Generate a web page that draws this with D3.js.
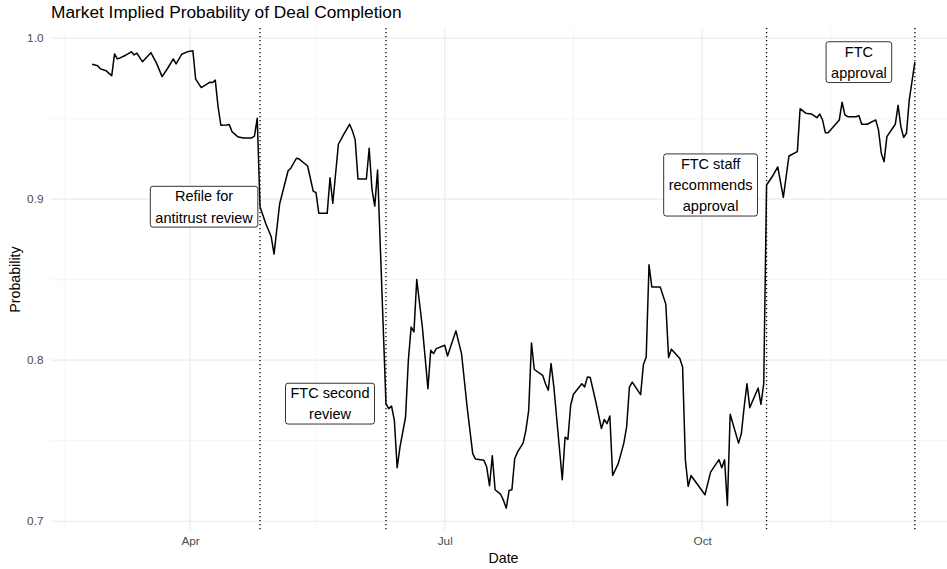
<!DOCTYPE html>
<meta charset="utf-8">
<style>
body {
  margin: 0;
  background-color: #fff;
}
svg {
  display: block;
  font-family: "Liberation Sans", Arial, sans-serif;
}
.grid-major {
  stroke: #EBEBEB;
  stroke-width: 1.1px;
}
.grid-minor {
  stroke: #EBEBEB;
  stroke-width: 0.55px;
}
.axis text {
  fill: #4D4D4D;
  font-size: 11.8px;
}
.axis path {
  display: none;
}
.line {
  fill: none;
  stroke: #000;
  stroke-width: 1.5px;
  stroke-linejoin: round;
}
.event-line {
  stroke: #000;
  stroke-width: 1.3px;
  stroke-dasharray: 1.3,2.7;
}
.label rect {
  fill: #fff;
  stroke: #000;
  stroke-width: 0.8px;
}
.label text {
  font-size: 14.5px;
  fill: #000;
}
</style>
<body>
<svg width="947" height="569"></svg>

<script src="https://cdn.jsdelivr.net/npm/d3@7"></script>
<script>

// implied probability
var dates = [
  "2023-02-25","2023-02-27","2023-02-28","2023-03-02","2023-03-04","2023-03-05","2023-03-06","2023-03-07",
  "2023-03-09","2023-03-11","2023-03-12","2023-03-13","2023-03-15","2023-03-18","2023-03-20","2023-03-22",
  "2023-03-24","2023-03-26","2023-03-27","2023-03-28","2023-03-29","2023-03-31","2023-04-02","2023-04-03",
  "2023-04-05","2023-04-08","2023-04-09","2023-04-10","2023-04-11","2023-04-12","2023-04-14","2023-04-15",
  "2023-04-16","2023-04-18","2023-04-20","2023-04-23","2023-04-24","2023-04-25","2023-04-26","2023-04-28",
  "2023-04-30","2023-05-01","2023-05-03","2023-05-06","2023-05-07","2023-05-09","2023-05-10","2023-05-13",
  "2023-05-15","2023-05-16","2023-05-17","2023-05-20","2023-05-21","2023-05-22","2023-05-24","2023-05-26",
  "2023-05-28","2023-05-29","2023-05-30","2023-05-31","2023-06-03","2023-06-04","2023-06-05","2023-06-06",
  "2023-06-07","2023-06-10","2023-06-11","2023-06-12","2023-06-13","2023-06-14","2023-06-15","2023-06-17",
  "2023-06-18","2023-06-19","2023-06-20","2023-06-21","2023-06-23","2023-06-25","2023-06-26","2023-06-27",
  "2023-06-28","2023-07-01","2023-07-02","2023-07-03","2023-07-05","2023-07-07","2023-07-08","2023-07-09",
  "2023-07-11","2023-07-12","2023-07-15","2023-07-16","2023-07-17","2023-07-18","2023-07-19","2023-07-21",
  "2023-07-22","2023-07-23","2023-07-24","2023-07-25","2023-07-26","2023-07-27","2023-07-29","2023-07-30",
  "2023-07-31","2023-08-01","2023-08-02","2023-08-05","2023-08-06","2023-08-07","2023-08-08","2023-08-09",
  "2023-08-12","2023-08-13","2023-08-14","2023-08-15","2023-08-16","2023-08-19","2023-08-20","2023-08-21",
  "2023-08-22","2023-08-24","2023-08-26","2023-08-27","2023-08-28","2023-08-29","2023-08-30","2023-09-01",
  "2023-09-03","2023-09-04","2023-09-05","2023-09-06","2023-09-09","2023-09-10","2023-09-11","2023-09-12",
  "2023-09-13","2023-09-16","2023-09-18","2023-09-19","2023-09-20","2023-09-23","2023-09-24","2023-09-25",
  "2023-09-26","2023-09-27","2023-10-02","2023-10-04","2023-10-07","2023-10-08","2023-10-09","2023-10-10",
  "2023-10-11","2023-10-14","2023-10-15","2023-10-16","2023-10-17","2023-10-18","2023-10-21","2023-10-22",
  "2023-10-23","2023-10-24","2023-10-26","2023-10-28","2023-10-30","2023-11-01","2023-11-04","2023-11-05",
  "2023-11-07","2023-11-09","2023-11-11","2023-11-12","2023-11-13","2023-11-14","2023-11-15","2023-11-19",
  "2023-11-20","2023-11-21","2023-11-22","2023-11-25","2023-11-26","2023-11-27","2023-11-29","2023-12-02",
  "2023-12-03","2023-12-04","2023-12-05","2023-12-06","2023-12-09","2023-12-10","2023-12-11","2023-12-12",
  "2023-12-13","2023-12-14","2023-12-16"
];

var probs = [
  0.9838,0.9828,0.9809,0.9797,0.9767,0.9902,0.9871,0.9877,
  0.9894,0.9915,0.9896,0.9907,0.9853,0.9910,0.9845,0.9761,
  0.9813,0.9871,0.9840,0.9869,0.9900,0.9915,0.9921,0.9745,
  0.9693,0.9726,0.9724,0.9739,0.9575,0.9459,0.9461,0.9463,
  0.9419,0.9388,0.9380,0.9380,0.9392,0.9502,0.8953,0.8850,
  0.8766,0.8659,0.8970,0.9175,0.9192,0.9254,0.9249,0.9206,
  0.9050,0.9040,0.8912,0.8912,0.9133,0.8974,0.9341,0.9405,
  0.9465,0.9425,0.9368,0.9125,0.9125,0.9316,0.9061,0.8957,
  0.9181,0.7730,0.7699,0.7715,0.7626,0.7332,0.7460,0.7647,
  0.8000,0.8206,0.8175,0.8501,0.8206,0.7823,0.8062,0.8041,
  0.8072,0.8093,0.8026,0.8078,0.8182,0.8041,0.7875,0.7709,
  0.7419,0.7386,0.7378,0.7336,0.7220,0.7407,0.7195,0.7166,
  0.7129,0.7081,0.7191,0.7195,0.7388,0.7429,0.7485,0.7564,
  0.7688,0.8107,0.7942,0.7906,0.7854,0.7813,0.7979,0.7833,
  0.7257,0.7522,0.7508,0.7720,0.7788,0.7854,0.7833,0.7896,
  0.7892,0.7740,0.7575,0.7632,0.7606,0.7653,0.7284,0.7357,
  0.7485,0.7585,0.7833,0.7864,0.7786,0.7973,0.8020,0.8592,
  0.8455,0.8455,0.8348,0.8016,0.8068,0.8010,0.7958,0.7378,
  0.7216,0.7284,0.7164,0.7305,0.7382,0.7332,0.7382,0.7098,
  0.7664,0.7485,0.7544,0.7709,0.7854,0.7705,0.7827,0.7726,
  0.7854,0.9088,0.9139,0.9200,0.9011,0.9268,0.9295,0.9562,
  0.9534,0.9529,0.9506,0.9529,0.9492,0.9413,0.9413,0.9492,
  0.9602,0.9523,0.9512,0.9512,0.9519,0.9465,0.9465,0.9492,
  0.9430,0.9285,0.9233,0.9388,0.9465,0.9583,0.9450,0.9384,
  0.9409,0.9616,0.9851
];

var eventDates = ["2023-04-26", "2023-06-10", "2023-10-24", "2023-12-16"];
var eventLabels = [
  ["Refile for", "antitrust review"],
  ["FTC second", "review"],
  ["FTC staff", "recommends", "approval"],
  ["FTC", "approval"]
];

var xTickDates = ["2023-04-01", "2023-07-01", "2023-10-01"];
var xTickLabels = ["Apr", "Jul", "Oct"];
var xMinorDates = ["2023-02-15", "2023-05-16", "2023-08-16", "2023-11-16"];
var yTicks = [0.7, 0.8, 0.9, 1.0];
var yTickLabels = ["0.7", "0.8", "0.9", "1.0"];
var yMinor = [0.75, 0.85, 0.95];

var panel = {left: 51, right: 956, top: 28, bottom: 531};

var parseTime = d3.timeParse("%Y-%m-%d");
var DAY = 864e5;

var data = dates.map(function(d, i) { return {date: parseTime(d), close: probs[i]}; });

// ggplot style 5% expansion
var xExt = d3.extent(data, function(d) { return d.date; });
var xPad = (xExt[1] - xExt[0]) * 0.05;
var x = d3.scaleTime()
  .domain([new Date(+xExt[0] - xPad), new Date(+xExt[1] + xPad)])
  .range([panel.left, panel.right]);

var yExt = d3.extent(probs);
var yPad = (yExt[1] - yExt[0]) * 0.05;
var y = d3.scaleLinear()
  .domain([yExt[0] - yPad, yExt[1] + yPad])
  .range([panel.bottom, panel.top]);

var svg = d3.select("svg");

svg.append("rect")
  .attr("width", 947)
  .attr("height", 569)
  .attr("fill", "#fff");

var grid = svg.append("g");

grid.selectAll(".gy-minor").data(yMinor)
  .enter().append("line")
  .attr("class", "grid-minor")
  .attr("x1", panel.left).attr("x2", panel.right)
  .attr("y1", function(d) { return y(d); })
  .attr("y2", function(d) { return y(d); });

grid.selectAll(".gx-minor").data(xMinorDates)
  .enter().append("line")
  .attr("class", "grid-minor")
  .attr("y1", panel.top).attr("y2", panel.bottom)
  .attr("x1", function(d) { return x(parseTime(d)); })
  .attr("x2", function(d) { return x(parseTime(d)); });

grid.selectAll(".gy").data(yTicks)
  .enter().append("line")
  .attr("class", "grid-major")
  .attr("x1", panel.left).attr("x2", panel.right)
  .attr("y1", function(d) { return y(d); })
  .attr("y2", function(d) { return y(d); });

grid.selectAll(".gx").data(xTickDates)
  .enter().append("line")
  .attr("class", "grid-major")
  .attr("y1", panel.top).attr("y2", panel.bottom)
  .attr("x1", function(d) { return x(parseTime(d)); })
  .attr("x2", function(d) { return x(parseTime(d)); });

// axes
var xAxis = d3.axisBottom(x)
  .tickValues(xTickDates.map(parseTime))
  .tickFormat(function(d, i) { return xTickLabels[i]; })
  .tickSize(0)
  .tickPadding(5.6);

var yAxis = d3.axisLeft(y)
  .tickValues(yTicks)
  .tickFormat(function(d, i) { return yTickLabels[i]; })
  .tickSize(0)
  .tickPadding(7.5);

svg.append("g")
  .attr("class", "axis axis--x")
  .attr("transform", "translate(0," + panel.bottom + ")")
  .call(xAxis)
  .selectAll("text").attr("font-family", null).attr("font-size", null);

svg.append("g")
  .attr("class", "axis axis--y")
  .attr("transform", "translate(" + panel.left + ",0)")
  .call(yAxis)
  .selectAll("text").attr("font-family", null).attr("font-size", null);

svg.selectAll(".axis .tick line").remove();

// price line
var line = d3.line()
  .x(function(d) { return x(d.date); })
  .y(function(d) { return y(d.close); });

svg.append("path")
  .datum(data)
  .attr("class", "line")
  .attr("d", line);

// event markers
var events = eventDates.map(function(d, i) {
  var dt = parseTime(d);
  var pt = data.find(function(p) { return +p.date === +dt; });
  return {date: dt, value: pt.close, lines: eventLabels[i]};
});

svg.selectAll(".event-line").data(events)
  .enter().append("line")
  .attr("class", "event-line")
  .attr("y1", panel.top).attr("y2", panel.bottom)
  .attr("x1", function(d) { return x(d.date); })
  .attr("x2", function(d) { return x(d.date); });

var lineGap = 21.3, capH = 10.4;

var labels = svg.selectAll(".label").data(events)
  .enter().append("g")
  .attr("class", "label")
  .attr("transform", function(d) {
    return "translate(" + x(new Date(+d.date - 20 * DAY)) + "," + y(d.value) + ")";
  });

labels.each(function(d) {
  var g = d3.select(this);
  var n = d.lines.length;
  var rect = g.append("rect");
  var text = g.append("text").attr("text-anchor", "middle");
  var b1 = -((n - 1) * lineGap + capH) / 2 + capH;
  d.lines.forEach(function(s, i) {
    text.append("tspan")
      .attr("x", 0)
      .attr("y", b1 + i * lineGap)
      .text(s);
  });
  var w = d3.max(text.selectAll("tspan").nodes(), function(t) { return t.getComputedTextLength(); });
  var h = lineGap * n - 1.8;
  rect.attr("x", -w / 2 - 5)
    .attr("y", -h / 2)
    .attr("width", w + 10)
    .attr("height", h)
    .attr("rx", 2.5);
});

// titles
svg.append("text")
  .attr("x", panel.left)
  .attr("y", 17.5)
  .attr("font-size", "17.3px")
  .attr("fill", "#000")
  .text("Market Implied Probability of Deal Completion");

svg.append("text")
  .attr("x", (panel.left + panel.right) / 2)
  .attr("y", 563)
  .attr("text-anchor", "middle")
  .attr("font-size", "14.2px")
  .text("Date");

svg.append("text")
  .attr("transform", "translate(19.5," + ((panel.top + panel.bottom) / 2) + ") rotate(-90)")
  .attr("text-anchor", "middle")
  .attr("font-size", "14.2px")
  .text("Probability");

</script>
</body>
